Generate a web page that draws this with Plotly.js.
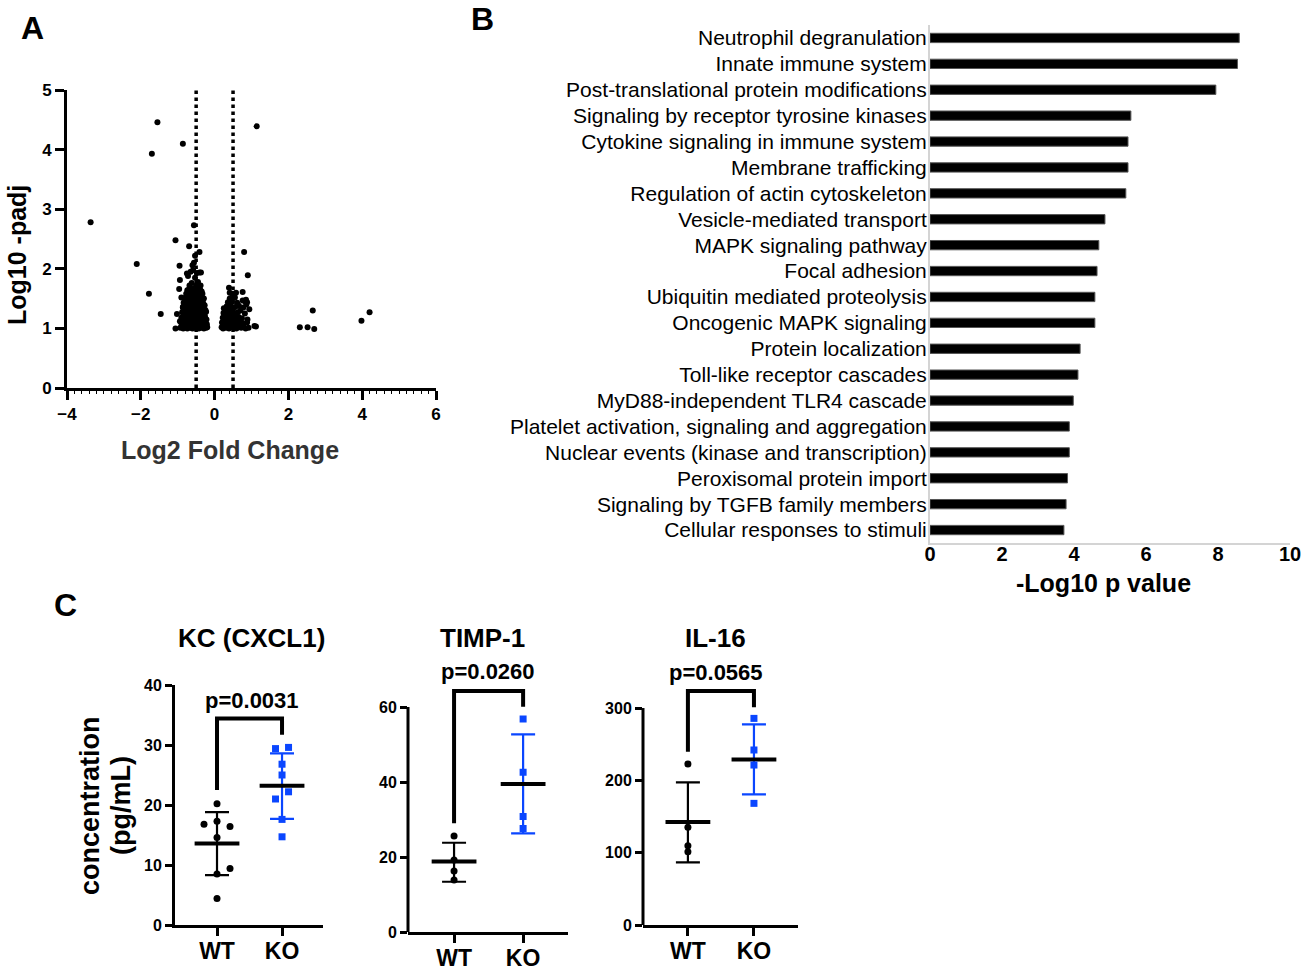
<!DOCTYPE html>
<html><head><meta charset="utf-8">
<script src="https://cdn.plot.ly/plotly-3.0.1.min.js"></script>
<style>html,body{margin:0;padding:0;background:#fff}#chart{width:1307px;height:973px}</style>
</head><body><div id="chart"></div>
<script>
// ---------------- DATA ----------------
// Panel A: volcano plot (log2 fold change vs -log10 padj)
const leftClusterFC = [
 -0.93,-0.89,-0.85,-0.82,-0.78,-0.74,-0.71,-0.67,-0.63,-0.60,-0.57,-0.53,-0.50,-0.46,-0.43,-0.39,-0.36,-0.32,-0.29,-0.26,-0.23,-0.20,
 -0.91,-0.87,-0.83,-0.79,-0.75,-0.70,-0.66,-0.62,-0.58,-0.54,-0.49,-0.45,-0.41,-0.37,-0.33,-0.29,-0.25,-0.21,
 -0.90,-0.85,-0.80,-0.76,-0.72,-0.68,-0.63,-0.59,-0.55,-0.51,-0.47,-0.43,-0.38,-0.34,-0.30,-0.26,-0.22,
 -0.88,-0.83,-0.78,-0.74,-0.69,-0.65,-0.61,-0.56,-0.52,-0.48,-0.44,-0.40,-0.35,-0.31,-0.27,-0.23,
 -0.86,-0.81,-0.77,-0.72,-0.68,-0.64,-0.59,-0.55,-0.51,-0.47,-0.42,-0.38,-0.34,-0.29,-0.25,
 -0.84,-0.79,-0.74,-0.70,-0.66,-0.61,-0.57,-0.53,-0.49,-0.44,-0.40,-0.36,-0.31,-0.27,
 -0.81,-0.76,-0.71,-0.67,-0.62,-0.58,-0.54,-0.49,-0.45,-0.41,-0.37,-0.33,-0.29,
 -0.77,-0.72,-0.68,-0.63,-0.59,-0.55,-0.50,-0.46,-0.42,-0.38,-0.33,
 -0.74,-0.69,-0.64,-0.60,-0.56,-0.51,-0.47,-0.43,-0.39,-0.35,
 -0.96,-0.94,-0.95,-0.90,-1.02,-1.06,-0.94,-0.86,-0.75,-0.72,-0.65,-0.60,-0.56,-0.58,-0.48,-0.41,-0.37,-0.53,-0.45,-0.62,-0.68,-0.38,-0.56,-0.53,-0.41,-0.50
];
const leftClusterP = [
 1.01,1.03,1.00,1.05,1.02,1.00,1.04,1.01,1.03,1.00,1.02,1.05,1.01,1.03,1.00,1.04,1.01,1.02,1.00,1.03,1.01,1.02,
 1.10,1.08,1.12,1.09,1.11,1.08,1.12,1.09,1.10,1.08,1.12,1.09,1.11,1.08,1.12,1.09,1.10,1.07,
 1.18,1.16,1.20,1.17,1.19,1.16,1.20,1.17,1.19,1.16,1.21,1.18,1.16,1.20,1.17,1.19,1.15,
 1.27,1.25,1.28,1.24,1.27,1.25,1.29,1.24,1.27,1.25,1.28,1.24,1.27,1.25,1.23,1.28,
 1.35,1.33,1.36,1.32,1.35,1.33,1.37,1.32,1.35,1.33,1.36,1.32,1.35,1.33,1.31,
 1.43,1.41,1.44,1.40,1.43,1.41,1.45,1.40,1.43,1.41,1.44,1.40,1.42,1.39,
 1.51,1.49,1.52,1.48,1.51,1.49,1.53,1.48,1.51,1.49,1.52,1.47,1.50,
 1.58,1.56,1.60,1.57,1.59,1.56,1.60,1.57,1.59,1.56,1.58,
 1.64,1.66,1.63,1.65,1.67,1.64,1.66,1.63,1.65,1.62,
 1.66,1.81,2.05,1.52,1.24,1.00,1.12,1.36,1.92,1.88,1.95,2.06,2.10,1.98,1.93,1.94,1.94,1.85,1.78,1.76,1.72,1.72,2.73,2.22,2.28,1.72
];
const rightClusterFC = [
 0.19,0.23,0.27,0.31,0.35,0.39,0.43,0.47,0.51,0.55,0.59,0.63,0.68,0.72,0.77,0.84,0.92,1.08,1.12,
 0.20,0.25,0.29,0.34,0.38,0.42,0.47,0.52,0.56,0.61,0.66,0.71,0.79,0.88,
 0.22,0.27,0.32,0.36,0.41,0.46,0.50,0.55,0.60,0.65,0.74,0.89,
 0.24,0.30,0.35,0.40,0.45,0.50,0.57,0.63,0.70,0.82,0.94,
 0.25,0.33,0.38,0.44,0.49,0.56,0.66,0.78,0.86,
 0.36,0.41,0.47,0.55,0.61,0.76,0.83,0.88,0.41,0.48,0.58,0.76,0.39,0.85
];
const rightClusterP = [
 1.02,1.00,1.03,1.01,1.04,1.00,1.02,1.05,1.01,1.03,1.00,1.02,1.04,1.01,1.03,1.00,1.01,1.04,1.03,
 1.10,1.08,1.12,1.09,1.11,1.08,1.12,1.10,1.08,1.11,1.09,1.12,1.08,1.10,
 1.18,1.20,1.16,1.19,1.17,1.21,1.17,1.20,1.16,1.19,1.17,1.15,
 1.26,1.28,1.25,1.29,1.26,1.28,1.24,1.27,1.30,1.25,1.32,
 1.34,1.37,1.35,1.38,1.33,1.36,1.38,1.35,1.40,
 1.44,1.50,1.46,1.52,1.43,1.47,1.45,1.44,1.60,1.58,1.60,1.61,1.68,1.48
];
const outlierFC = [-3.36,-2.11,-1.78,-1.70,-1.55,-1.46,-1.06,-0.86,-0.69,0.80,0.90,1.14,2.31,2.52,2.66,2.70,3.98,4.20];
const outlierP  = [ 2.78, 2.08, 1.58, 3.93, 4.46, 1.24, 2.48, 4.10, 2.38,2.28,1.89,4.39,1.02,1.02,1.30,0.99,1.13,1.27];
const foldChangeThresholds = [-0.5, 0.5];

// Panel B: pathway enrichment
const pathways = [
 'Neutrophil degranulation','Innate immune system','Post-translational protein modifications',
 'Signaling by receptor tyrosine kinases','Cytokine signaling in immune system','Membrane trafficking',
 'Regulation of actin cytoskeleton','Vesicle-mediated transport','MAPK signaling pathway','Focal adhesion',
 'Ubiquitin mediated proteolysis','Oncogenic MAPK signaling','Protein localization','Toll-like receptor cascades',
 'MyD88-independent TLR4 cascade','Platelet activation, signaling and aggregation',
 'Nuclear events (kinase and transcription)','Peroxisomal protein import','Signaling by TGFB family members',
 'Cellular responses to stimuli'
];
const pathwayNegLog10P = [8.59,8.54,7.94,5.58,5.50,5.50,5.44,4.86,4.69,4.64,4.58,4.58,4.17,4.11,3.98,3.87,3.87,3.82,3.78,3.72];

// Panel C: cytokine concentrations
const groups = ['WT','KO'];
const kcWT = [20.2,16.8,17.3,16.4,14.6,9.4,8.5,4.4];
const kcKO = [29.4,29.6,26.8,25.0,22.2,21.0,17.6,14.7];
const kcMean = [13.6,23.2], kcUpper = [18.8,28.6], kcLower = [8.3,17.7];
const kcBracket = [22.5,34.4,31.7];
const timpWT = [25.6,19.2,16.3,13.9];
const timpKO = [56.8,42.6,30.8,27.6];
const timpMean = [18.8,39.5], timpUpper = [23.8,52.7], timpLower = [13.4,26.3];
const timpBracket = [29.0,64.3,60.1];
const il16WT = [222.6,135.0,109.7,101.4];
const il16KO = [285.7,242.0,221.2,168.2];
const il16Mean = [142.4,229.0], il16Upper = [197.3,277.5], il16Lower = [86.7,180.7];
const il16Bracket = [239.6,323.5,301.0];
const pValues = ['p=0.0031','p=0.0260','p=0.0565'];

// jitter offsets (positions only)
const kcWTJitter = [0,-0.2,0,0.2,0,0.2,0,0];
const kcKOJitter = [-0.1,0.1,0,0,0.1,-0.1,0,0];
const zeroJitter = [0,0,0,0];

// ---------------- LAYOUT HELPERS ----------------
const W = 1307, H = 973;
const FONT = 'Liberation Sans, Arial, Helvetica, sans-serif';
const BLUE = '#0a46ff';
const px = v => v / W;
const py = v => 1 - v / H;
const bf = (size, color) => ({family: FONT, size, color: color || '#000', weight: 'bold'});

const traces = [];

// Panel A
traces.push({
  type:'scatter', mode:'markers', xaxis:'x', yaxis:'y',
  x: leftClusterFC.concat(rightClusterFC, outlierFC),
  y: leftClusterP.concat(rightClusterP, outlierP),
  marker:{size:6, color:'#000'}, cliponaxis:false, hoverinfo:'skip'
});

// Panel B
traces.push({
  type:'bar', orientation:'h', xaxis:'x2', yaxis:'y2',
  y: pathways, x: pathwayNegLog10P, width:0.36,
  marker:{color:'#000', line:{color:'#555', width:1}}, hoverinfo:'skip'
});

// Panel C
function groupTraces(ax, ay, pos, values, jitter, mean, upper, lower, color, symbol) {
  return [
    {type:'scatter', mode:'markers', xaxis:ax, yaxis:ay, x:[pos], y:[mean],
     marker:{size:1, color:'rgba(0,0,0,0)'}, hoverinfo:'skip',
     error_y:{type:'data', symmetric:false, array:[upper - mean], arrayminus:[mean - lower],
              color:color, thickness:2.2, width:12}},
    {type:'scatter', mode:'markers', xaxis:ax, yaxis:ay, x:[pos], y:[mean], hoverinfo:'skip',
     marker:{symbol:'line-ew', size:32, color:'#000', line:{width:4, color:'#000'}}},
    {type:'scatter', mode:'markers', xaxis:ax, yaxis:ay, hoverinfo:'skip', cliponaxis:false,
     x: values.map((v, i) => pos + jitter[i]), y: values,
     marker:{symbol:symbol, size:7, color:color}}
  ];
}
function bracketTrace(ax, ay, b) {
  return {type:'scatter', mode:'lines', xaxis:ax, yaxis:ay, hoverinfo:'skip',
          x:[0,0,1,1], y:[b[0], b[1], b[1], b[2]], line:{color:'#000', width:4}};
}
const panels = [
  {ax:'x3', ay:'y3', wt:kcWT, ko:kcKO, wj:kcWTJitter, kj:kcKOJitter, mean:kcMean, up:kcUpper, lo:kcLower, br:kcBracket},
  {ax:'x4', ay:'y4', wt:timpWT, ko:timpKO, wj:zeroJitter, kj:zeroJitter, mean:timpMean, up:timpUpper, lo:timpLower, br:timpBracket},
  {ax:'x5', ay:'y5', wt:il16WT, ko:il16KO, wj:zeroJitter, kj:zeroJitter, mean:il16Mean, up:il16Upper, lo:il16Lower, br:il16Bracket}
];
panels.forEach(p => {
  traces.push(bracketTrace(p.ax, p.ay, p.br));
  traces.push(...groupTraces(p.ax, p.ay, 0, p.wt, p.wj, p.mean[0], p.up[0], p.lo[0], '#000', 'circle'));
  traces.push(...groupTraces(p.ax, p.ay, 1, p.ko, p.kj, p.mean[1], p.up[1], p.lo[1], BLUE, 'square'));
});

// axes
function catX(l, r, range, anchor) {
  return {domain:[px(l), px(r)], range, anchor, tickvals:[0,1], ticktext:groups,
    ticks:'outside', ticklen:8, tickwidth:3, tickcolor:'#000', showline:true, linewidth:3, linecolor:'#000',
    showgrid:false, zeroline:false, tickfont:bf(23), ticklabelstandoff:-5, fixedrange:true};
}
function valY(bottom, top, range, tickvals, anchor, showline) {
  return {domain:[py(bottom), py(top)], range, anchor, tickvals,
    ticks:'outside', ticklen:7, tickwidth:3, tickcolor:'#000', showline, linewidth:3, linecolor:'#000',
    showgrid:false, zeroline:false, tickfont:bf(16), fixedrange:true};
}

const layout = {
  width:W, height:H, margin:{l:0, r:0, t:0, b:0}, showlegend:false,
  paper_bgcolor:'#fff', plot_bgcolor:'rgba(0,0,0,0)', font:{family:FONT, color:'#000'},
  xaxis:{domain:[px(67), px(436)], range:[-4,6], anchor:'y', tickvals:[-4,-2,0,2,4,6],
    ticks:'outside', ticklen:9, tickwidth:3, tickcolor:'#000', showline:true, linewidth:3, linecolor:'#000',
    minor:{ticks:'outside', ticklen:3, tickwidth:1, dtick:0.2, tickcolor:'#000'},
    showgrid:false, zeroline:false, tickfont:bf(17)},
  yaxis:{domain:[py(388), py(90)], range:[0,5], anchor:'x', tickvals:[0,1,2,3,4,5],
    ticks:'outside', ticklen:9, tickwidth:3, tickcolor:'#000', showline:true, linewidth:3, linecolor:'#000',
    showgrid:false, zeroline:false, tickfont:bf(17)},
  xaxis2:{domain:[px(930), px(1290)], range:[0,10], anchor:'y2', tickvals:[0,2,4,6,8,10],
    ticks:'', showline:true, linewidth:2, linecolor:'#d4d4d4', showgrid:false, zeroline:false,
    tickfont:bf(20), ticklabelstandoff:-8},
  yaxis2:{domain:[py(543), py(25)], anchor:'x2', type:'category', autorange:'reversed',
    ticks:'', showline:true, linewidth:2, linecolor:'#d4d4d4', showgrid:false, zeroline:false,
    tickfont:{family:FONT, size:21, color:'#000'}, ticklabelstandoff:-3},
  xaxis3: catX(175, 323, [-0.646, 1.63], 'y3'),
  yaxis3: valY(925, 685, [0,40], [0,10,20,30,40], 'x3', true),
  xaxis4: catX(408, 568, [-0.667, 1.65], 'y4'),
  yaxis4: valY(932, 684.5, [0,66], [0,20,40,60], 'x4', false),
  xaxis5: catX(643, 798, [-0.68, 1.667], 'y5'),
  yaxis5: valY(925, 684.9, [0,332], [0,100,200,300], 'x5', false),
  shapes: [
    ...foldChangeThresholds.map(t => ({type:'line', layer:'below', xref:'x', yref:'y domain', x0:t, x1:t, y0:0, y1:1,
       line:{color:'#000', width:3.5, dash:'3.5px,3.5px'}})),
    {type:'line', xref:'x4 domain', yref:'y4', x0:0, x1:0, y0:0, y1:60, line:{color:'#000', width:3}},
    {type:'line', xref:'x5 domain', yref:'y5', x0:0, x1:0, y0:0, y1:300, line:{color:'#000', width:3}}
  ],
  annotations: [
    {text:'A', x:px(32), y:py(28), font:bf(32)},
    {text:'B', x:px(482), y:py(19), font:bf(32)},
    {text:'C', x:px(65), y:py(605), font:bf(32)},
    {text:'Log10 -padj', x:px(17), y:py(255), textangle:-90, font:bf(25)},
    {text:'Log2 Fold Change', x:px(230), y:py(450), font:bf(25, '#333')},
    {text:'-Log10 p value', x:px(1103), y:py(583), font:bf(25)},
    {text:'concentration', x:px(90), y:py(806), textangle:-90, font:bf(27)},
    {text:'(pg/mL)', x:px(121), y:py(806), textangle:-90, font:bf(27)},
    {text:'KC (CXCL1)', x:px(251), y:py(638), font:bf(26)},
    {text:'TIMP-1', x:px(482), y:py(638), font:bf(26)},
    {text:'IL-16', x:px(715), y:py(638), font:bf(26)},
    {text:pValues[0], x:px(252), y:py(700), font:bf(22)},
    {text:pValues[1], x:px(488), y:py(671), font:bf(22)},
    {text:pValues[2], x:px(716), y:py(672), font:bf(22)}
  ].map(a => Object.assign({xref:'paper', yref:'paper', showarrow:false, xanchor:'center', yanchor:'middle'}, a))
};

Plotly.newPlot('chart', traces, layout, {displayModeBar:false, staticPlot:true});
</script>
</body></html>
